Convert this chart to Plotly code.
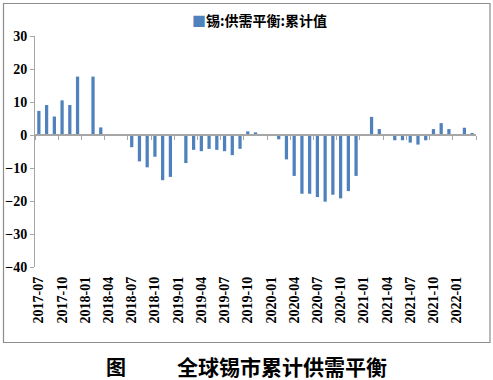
import plotly.graph_objects as go

months = []
for y in range(2017, 2023):
    for m in range(1, 13):
        if (y == 2017 and m < 7) or (y == 2022 and m > 3):
            continue
        months.append(f"{y}-{m:02d}")

values = [7.3, 9.1, 5.6, 10.5, 9.1, 17.7,
          None, 17.7, 2.3, 0.2, 0.0, 0.1, -3.7, -8.0, -9.8, -6.6, -13.7, -12.7,
          None, -8.5, -4.5, -4.9, -4.2, -4.5, -4.9, -6.1, -4.2, 1.1, 0.8, 0.2,
          None, -1.3, -7.4, -12.4, -17.8, -17.8, -18.8, -20.2, -18.1, -19.2, -17.0, -12.4,
          None, 5.5, 1.8, 0.2, -1.6, -1.6, -2.3, -2.9, -1.6, 1.8, 3.6, 1.8,
          None, 2.2, 0.5]

series_name = "锡:供需平衡:累计值"
title_left = "图"
title_right = "全球锡市累计供需平衡"

xs = list(range(len(months)))
tick_idx = xs[::3]
tick_txt = [months[i] for i in tick_idx]
boundaries = [i - 0.5 for i in range(0, len(months) + 1, 3)]

BLUE = "#4F81BD"
AX = "#a6a6a6"
serif = "Liberation Serif, Times New Roman, serif"
cjk = "Noto Sans CJK SC, sans-serif"

W, H = 493, 380
L, R, T, B = 35, 17, 36, 113
pw, ph = W - L - R, H - T - B

def px(xp):
    return (xp - L) / pw

def py(yp):
    return (H - B - yp) / ph

fig = go.Figure()
fig.add_trace(go.Bar(x=xs, y=values, width=0.42, marker=dict(color=BLUE, line=dict(width=0)),
                     name=series_name, showlegend=False))
fig.add_trace(go.Scatter(x=[None], y=[None], xaxis="x2", showlegend=False, hoverinfo="skip"))

fig.update_layout(
    width=W, height=H,
    margin=dict(l=L, r=R, t=T, b=B, autoexpand=False),
    paper_bgcolor="white", plot_bgcolor="white",
    xaxis=dict(range=[-0.5, len(months) - 0.5], tickmode="array", tickvals=tick_idx, ticktext=tick_txt,
               tickangle=-90, showline=False, showgrid=False, zeroline=False, ticks="",
               tickfont=dict(family=serif, size=14, color="black", weight="bold"), ticklabelstandoff=6),
    xaxis2=dict(range=[-0.5, len(months) - 0.5], overlaying="x", anchor="free", position=40 / 70,
                side="bottom", tickmode="array", tickvals=boundaries, ticktext=[""] * len(boundaries),
                ticks="outside", ticklen=4, tickcolor=AX, showline=True, linecolor=AX, linewidth=1.5,
                showgrid=False, zeroline=False, showticklabels=False),
    yaxis=dict(range=[-40, 30], dtick=10, tick0=0, ticks="outside", ticklen=4, tickcolor=AX,
               showline=True, linecolor=AX, linewidth=1, showgrid=False, zeroline=False,
               tickfont=dict(family=serif, size=14, color="black", weight="bold")),
    shapes=[dict(type="rect", xref="paper", yref="paper", x0=px(3.5), x1=px(490), y0=py(342.5), y1=py(3.5),
                 line=dict(color="#8c8c8c", width=1.2), fillcolor="rgba(0,0,0,0)", layer="below")],
    annotations=[
        dict(text=f"<span style='color:{BLUE}'>■</span>{series_name}", xref="paper", yref="paper",
             x=px(190), y=py(20), xanchor="left", yanchor="middle", showarrow=False,
             font=dict(family=cjk, size=14, color="black", weight="bold")),
        dict(text=title_left, xref="paper", yref="paper", x=px(116), y=py(366), xanchor="center",
             yanchor="middle", showarrow=False, font=dict(family=cjk, size=20, color="black", weight="bold")),
        dict(text=title_right, xref="paper", yref="paper", x=px(282), y=py(366), xanchor="center",
             yanchor="middle", showarrow=False, font=dict(family=cjk, size=21, color="black", weight="bold")),
    ],
)

fig.write_html("out.html", config={"displayModeBar": False},
               post_script="document.body.style.margin='0px';document.body.style.overflow='hidden';")
